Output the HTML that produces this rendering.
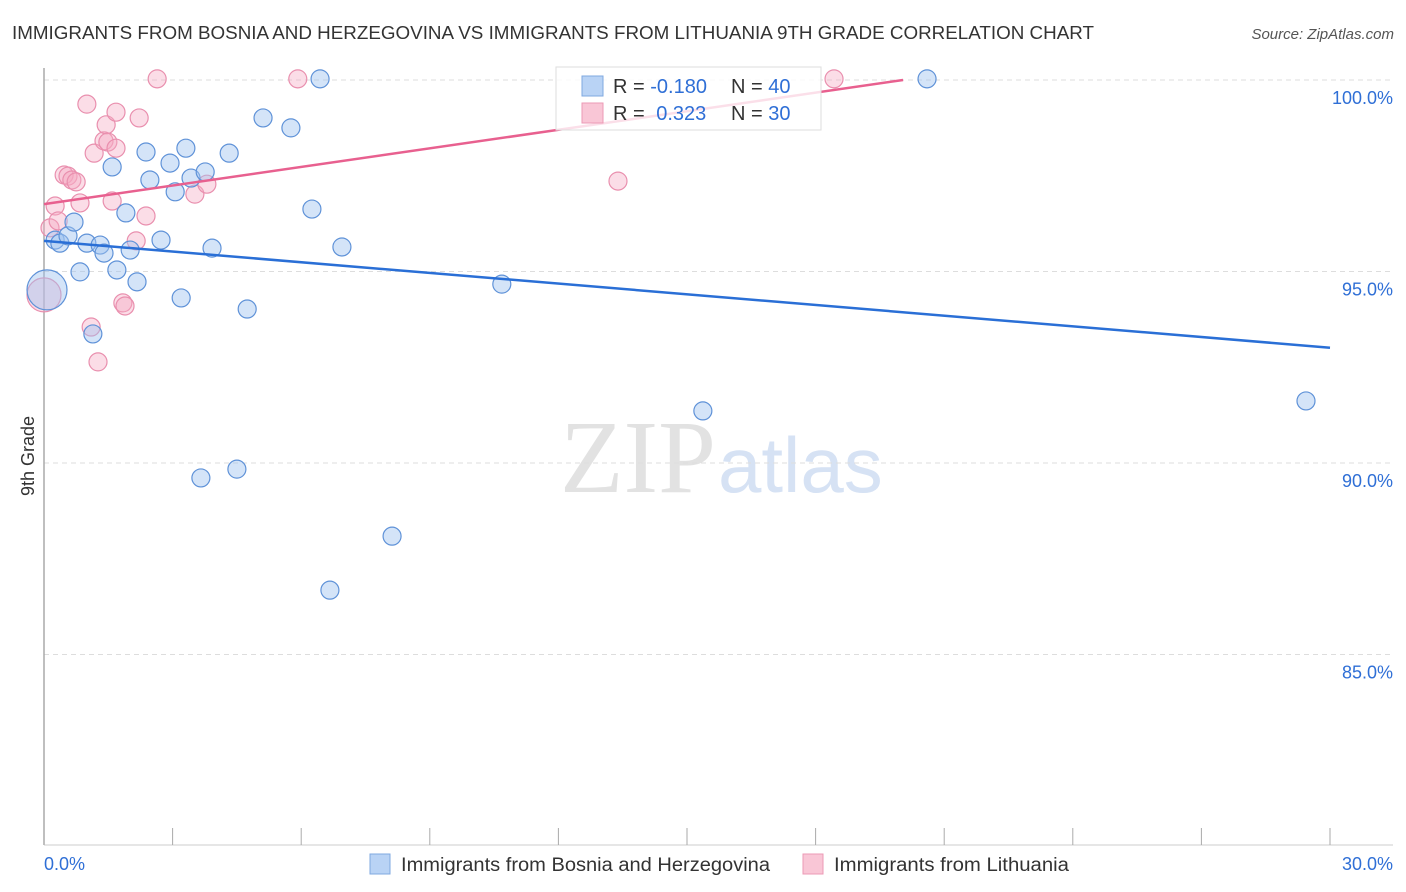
<!DOCTYPE html>
<html><head><meta charset="utf-8"><style>
body{margin:0;background:#fff;font-family:"Liberation Sans",sans-serif;}
#wrap{position:relative;width:1406px;height:892px;overflow:hidden;}
</style></head><body>
<div id="wrap">
<svg id="chart" width="1406" height="892" xmlns="http://www.w3.org/2000/svg">
<text x="12" y="39" font-size="18" fill="#333" textLength="1082" lengthAdjust="spacingAndGlyphs">IMMIGRANTS FROM BOSNIA AND HERZEGOVINA VS IMMIGRANTS FROM LITHUANIA 9TH GRADE CORRELATION CHART</text>
<text x="1394" y="39" font-size="15" fill="#555" font-style="italic" text-anchor="end">Source: ZipAtlas.com</text>
<text x="716" y="492" font-size="104" fill="#e2e2e2" text-anchor="end" font-family="Liberation Serif,serif">ZIP</text>
<text x="718" y="492" font-size="78" fill="#d6e2f4">atlas</text>
<g id="grid"></g>
<g id="axes"></g>
<g id="marks"></g>
<text transform="translate(34,456) rotate(-90)" font-size="18" fill="#333" text-anchor="middle">9th Grade</text>
<g>
<rect x="556" y="67" width="265" height="63" fill="rgba(255,255,255,0.8)" stroke="#ddd"/>
<rect x="582" y="76" width="21" height="20" fill="#b9d3f5" stroke="#7fa8e0"/>
<rect x="582" y="103" width="21" height="20" fill="#f9c6d6" stroke="#ec9ab5"/>
<text x="613" y="93" font-size="20" fill="#333">R = <tspan fill="#2f6fd6">-0.180</tspan></text>
<text x="731" y="93" font-size="20" fill="#333">N = <tspan fill="#2f6fd6">40</tspan></text>
<text x="613" y="120" font-size="20" fill="#333">R = <tspan fill="#2f6fd6" dx="6">0.323</tspan></text>
<text x="731" y="120" font-size="20" fill="#333">N = <tspan fill="#2f6fd6">30</tspan></text>
</g>
<g>
<rect x="370" y="854" width="20" height="20" fill="#b9d3f5" stroke="#7fa8e0"/>
<text x="401" y="871" font-size="19" fill="#333" textLength="369" lengthAdjust="spacingAndGlyphs">Immigrants from Bosnia and Herzegovina</text>
<rect x="803" y="854" width="20" height="20" fill="#f9c6d6" stroke="#ec9ab5"/>
<text x="834" y="871" font-size="19" fill="#333" textLength="235" lengthAdjust="spacingAndGlyphs">Immigrants from Lithuania</text>
</g>
<text x="44" y="870" font-size="18" fill="#2f6fd6">0.0%</text>
<text x="1393" y="870" font-size="18" fill="#2f6fd6" text-anchor="end">30.0%</text>
</svg>
</div>
<script>
const yTicks=[100,95,90,85];
const yTickLabels=["100.0%","95.0%","90.0%","85.0%"];
const xTicks=[0,3,6,9,12,15,18,21,24,27,30];
const blueX=[0.07,0.26,0.37,0.56,0.70,0.84,1.00,1.14,1.31,1.40,1.59,1.70,1.91,2.01,2.17,2.38,2.47,2.73,2.94,3.06,3.20,3.31,3.43,3.76,3.92,4.32,4.50,3.66,4.74,5.11,5.76,6.25,6.44,6.95,8.12,6.67,10.68,15.37,20.60,29.44];
const blueY=[94.52,95.82,95.74,95.93,96.29,94.99,95.74,93.37,95.69,95.48,97.73,95.04,96.53,95.56,94.73,98.12,97.39,95.82,97.83,97.08,94.31,98.22,97.44,97.60,95.61,98.09,89.84,89.61,94.02,99.01,98.75,96.63,100.03,95.64,88.09,86.68,94.67,91.36,100.03,91.62];
const pinkX=[0.0,0.14,0.26,0.33,0.47,0.56,0.65,0.75,0.84,1.00,1.10,1.17,1.26,1.40,1.45,1.49,1.68,1.68,1.59,1.84,1.89,2.15,2.22,2.38,2.64,3.52,3.80,5.92,13.39,18.43];
const pinkY=[94.39,96.14,96.71,96.32,97.52,97.49,97.39,97.34,96.79,99.37,93.55,98.09,92.64,98.41,98.83,98.38,99.16,98.22,96.84,94.18,94.10,95.80,99.01,96.45,100.03,97.02,97.28,100.03,97.36,100.03];
const blueTrendX=[0,30];
const blueTrendY=[95.80,93.01];
const pinkTrendX=[0,20.04];
const pinkTrendY=[96.76,100.0];

const NS="http://www.w3.org/2000/svg";
const xs=v=>44+v/30*1286;
const ys=v=>80+(100-v)*38.3;
function mk(tag,attrs,parent){const e=document.createElementNS(NS,tag);for(const k in attrs)e.setAttribute(k,attrs[k]);parent.appendChild(e);return e;}
const grid=document.getElementById('grid'),axes=document.getElementById('axes'),marks=document.getElementById('marks');
yTicks.forEach((t,i)=>{
  const l=mk('line',{x1:44,x2:1393,y1:ys(t),y2:ys(t),stroke:'#ddd','stroke-dasharray':'5,4'},grid);
  
  
  const tx=mk('text',{x:1393,y:ys(t)+24,'font-size':18,fill:'#2f6fd6','text-anchor':'end'},grid);
  tx.textContent=yTickLabels[i];
  
  
});
const ya=mk('line',{x1:44,x2:44,y1:68,y2:845,stroke:'#aaa','stroke-width':1.5},axes);


const xa=mk('line',{x1:44,x2:1393,y1:845,y2:845,stroke:'#ccc'},axes);


xTicks.forEach(t=>{
  const l=mk('line',{x1:xs(t),x2:xs(t),y1:828,y2:845,stroke:'#aaa'},axes);
  
  
});
function pts(X,Y,fill,stroke,name,bigR){
  X.forEach((x,i)=>{
    const c=mk('circle',{cx:xs(x),cy:ys(Y[i]),r:(i===0?bigR:9),fill:fill,stroke:stroke,'stroke-width':1.2},marks);
    
    
  });
}
pts(pinkX,pinkY,'rgba(246,170,196,0.4)','#e98fae','lithuania-point',17);
pts(blueX,blueY,'rgba(160,195,240,0.45)','#5f92d8','bosnia-point',20);
const bl=mk('line',{x1:xs(blueTrendX[0]),y1:ys(blueTrendY[0]),x2:xs(blueTrendX[1]),y2:ys(blueTrendY[1]),stroke:'#2a6fd6','stroke-width':2.5},marks);


const pl=mk('line',{x1:xs(pinkTrendX[0]),y1:ys(pinkTrendY[0]),x2:xs(pinkTrendX[1]),y2:ys(pinkTrendY[1]),stroke:'#e8608f','stroke-width':2.5},marks);


</script>
</body></html>
